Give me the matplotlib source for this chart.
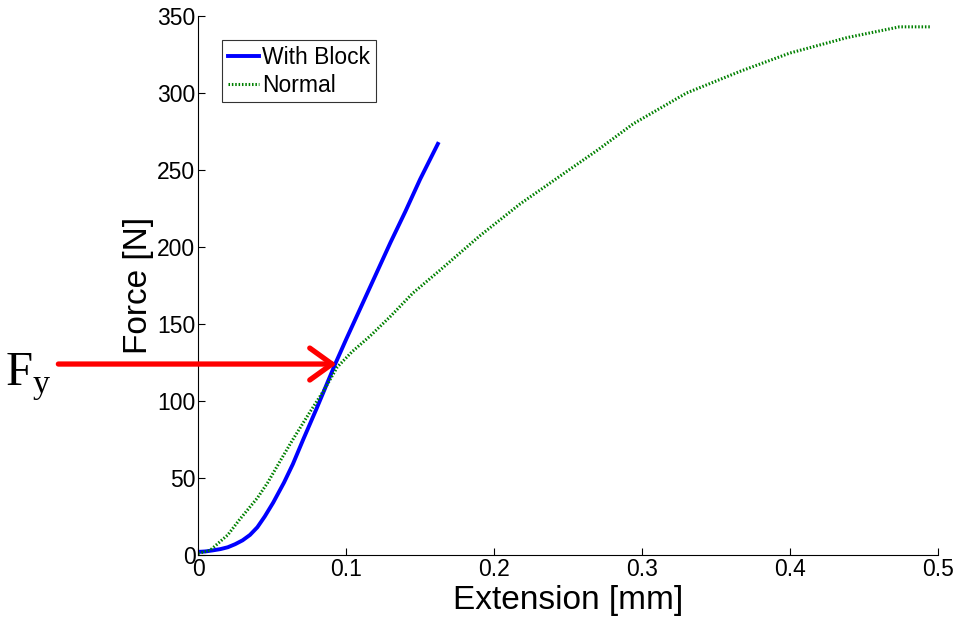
import numpy as np
import matplotlib.pyplot as plt

plt.rcParams['font.family'] = ['Liberation Sans', 'DejaVu Sans']

# With Block curve
block_x = [0, 0.005, 0.01, 0.015, 0.02, 0.025, 0.03, 0.035, 0.04, 0.045, 0.0507,
           0.058, 0.064, 0.071, 0.08, 0.0926, 0.10, 0.11, 0.12, 0.13, 0.14, 0.15, 0.162]
block_y = [2, 2.3, 3, 3.8, 5, 7, 9.5, 13, 18, 25, 34,
           47, 59, 75, 95, 124, 140, 161, 182, 203, 223, 244, 267]

# Normal curve
normal_x = [0, 0.008, 0.02, 0.028, 0.04, 0.047, 0.056, 0.064, 0.075, 0.085, 0.094,
            0.104, 0.116, 0.13, 0.145, 0.1635, 0.19, 0.2176, 0.243, 0.27, 0.294,
            0.33, 0.366, 0.40, 0.4385, 0.474, 0.495]
normal_y = [1, 3, 13, 23, 37, 47, 62, 75, 92, 107, 122,
            132, 142, 155, 170, 185, 207, 228, 245, 263, 280,
            300, 314, 326, 336, 343, 343]

fig = plt.figure(figsize=(9.62, 6.18), dpi=100)
ax = fig.add_axes([0.206, 0.102, 0.769, 0.872])

ax.plot(block_x, block_y, color='#0000ff', lw=2.8, label='With Block')
ax.plot(normal_x, normal_y, color='#008000', lw=2.2, ls=(0, (0.5, 0.6)), label='Normal')

ax.set_xlim(0, 0.5)
ax.set_ylim(0, 350)
ax.set_xticks(np.arange(0, 0.51, 0.1))
ax.set_xticklabels(['0', '0.1', '0.2', '0.3', '0.4', '0.5'])
ax.set_yticks(np.arange(0, 351, 50))
ax.tick_params(direction='in', labelsize=16.5, length=5, width=0.8, pad=2)
ax.spines['top'].set_visible(False)
ax.spines['right'].set_visible(False)

ax.set_xlabel('Extension [mm]', fontsize=24, labelpad=3)
ax.set_ylabel('Force [N]', fontsize=24, labelpad=2)

leg = ax.legend(loc='upper left', bbox_to_anchor=(0.032, 0.955), fontsize=16.5,
                frameon=True, fancybox=False, handlelength=1.35, handletextpad=0.15,
                borderpad=0.25, labelspacing=0.2, borderaxespad=0)
leg.get_frame().set_edgecolor('black')
leg.get_frame().set_linewidth(0.8)

# yield force arrow
ax.annotate('', xy=(0.0935, 124), xytext=(-0.0945, 124),
            arrowprops=dict(arrowstyle='->,head_length=1.6,head_width=1.15',
                            color='#ff0000', lw=3.8, shrinkA=0, shrinkB=0),
            annotation_clip=False)
fig.text(0.005, 0.376, r'F$_\mathregular{y}$', fontsize=35,
         family=['Liberation Serif', 'DejaVu Serif'])

fig.savefig('out.png', dpi=100)
